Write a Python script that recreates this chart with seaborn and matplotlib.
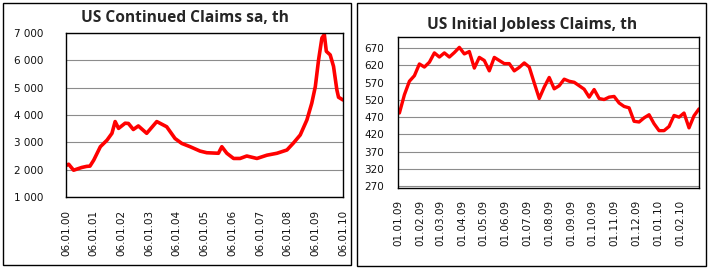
import matplotlib
matplotlib.use("Agg")
import matplotlib.pyplot as plt
import matplotlib.patches as mpatches
import seaborn as sns
import pandas as pd

# ── Data ─────────────────────────────────────────────────────────────────────
cont_dates = [
    "2000-01-06", "2000-02-10", "2000-04-15", "2000-07-31", "2000-10-04",
    "2000-11-17", "2001-01-06", "2001-04-03", "2001-06-30", "2001-09-03",
    "2001-10-15", "2001-11-29", "2002-02-24", "2002-04-08", "2002-06-12",
    "2002-08-17", "2002-12-05", "2003-04-17", "2003-08-26", "2003-12-14",
    "2004-03-12", "2004-06-30", "2004-11-08", "2005-02-04", "2005-07-08",
    "2005-08-22", "2005-10-27", "2006-01-24", "2006-04-20", "2006-07-17",
    "2006-11-28", "2007-04-09", "2007-08-19", "2007-12-29", "2008-03-25",
    "2008-06-21", "2008-09-17", "2008-11-20", "2009-01-06", "2009-02-18",
    "2009-04-03", "2009-05-05", "2009-05-31", "2009-07-21", "2009-09-03",
    "2009-10-17", "2009-11-08", "2010-01-06",
]
cont_claims = [
    2150, 2200, 1980, 2080, 2120, 2130, 2350, 2840, 3080, 3330,
    3760, 3510, 3700, 3690, 3470, 3600, 3330, 3760, 3570, 3140,
    2960, 2840, 2680, 2620, 2600, 2840, 2600, 2410, 2410, 2500,
    2410, 2530, 2600, 2720, 2980, 3270, 3820, 4430, 5040, 6020,
    6820, 6940, 6330, 6200, 5780, 4920, 4650, 4550,
]

# weekly, starting with the week ending 03.01.09
init_start = "2009-01-03"
init_claims = [
    482, 535, 574, 590, 624, 615, 629, 656, 644, 656,
    644, 657, 672, 653, 660, 612, 643, 634, 604, 643,
    634, 625, 625, 604, 614, 627, 615, 569, 524, 557,
    585, 552, 561, 580, 574, 571, 561, 551, 528, 550,
    524, 521, 528, 530, 511, 501, 497, 458, 456, 468,
    477, 451, 431, 431, 443, 475, 470, 482, 439, 474,
    494,
]

cont_xticks = ["2000-01-06", "2001-01-06", "2002-01-06", "2003-01-06", "2004-01-06",
               "2005-01-06", "2006-01-06", "2007-01-06", "2008-01-06", "2009-01-06",
               "2010-01-06"]
cont_xlabels = ["06.01.00", "06.01.01", "06.01.02", "06.01.03", "06.01.04",
                "06.01.05", "06.01.06", "06.01.07", "06.01.08", "06.01.09",
                "06.01.10"]
cont_yticks = [1000, 2000, 3000, 4000, 5000, 6000, 7000]
cont_ylabels = ["1 000", "2 000", "3 000", "4 000", "5 000", "6 000", "7 000"]

init_xticks = ["2009-01-01", "2009-02-01", "2009-03-01", "2009-04-01", "2009-05-01",
               "2009-06-01", "2009-07-01", "2009-08-01", "2009-09-01", "2009-10-01",
               "2009-11-01", "2009-12-01", "2010-01-01", "2010-02-01"]
init_xlabels = ["01.01.09", "01.02.09", "01.03.09", "01.04.09", "01.05.09",
                "01.06.09", "01.07.09", "01.08.09", "01.09.09", "01.10.09",
                "01.11.09", "01.12.09", "01.01.10", "01.02.10"]
init_yticks = [270, 320, 370, 420, 470, 520, 570, 620, 670]

# ── Style ────────────────────────────────────────────────────────────────────
sns.set_style("white")
plt.rcParams['font.family'] = ['DejaVu Sans']

RED = "#ff0000"
GRID = "#8c8c8c"

df_cont = pd.DataFrame({"date": pd.to_datetime(cont_dates), "claims": cont_claims})
df_init = pd.DataFrame({
    "date": pd.date_range(init_start, periods=len(init_claims), freq="7D"),
    "claims": init_claims,
})

fig = plt.figure(figsize=(7.09, 2.69), dpi=100)

# panel frames
W, H = 709, 269
for x0, y0, x1, y1 in [(3, 3, 351, 265), (357, 3, 706, 266)]:
    fig.patches.append(mpatches.Rectangle(
        (x0 / W, 1 - y1 / H), (x1 - x0) / W, (y1 - y0) / H,
        transform=fig.transFigure, fill=False, edgecolor="black", linewidth=1.0))

ax1 = fig.add_axes([66 / W, 1 - 197 / H, 277 / W, 164 / H])
ax2 = fig.add_axes([398 / W, 1 - 188 / H, 301 / W, 151 / H])


def style_axes(ax):
    for s in ax.spines.values():
        s.set_visible(True)
        s.set_color("black")
        s.set_linewidth(1.0)
    ax.grid(axis="y", color=GRID, linewidth=0.8)
    ax.grid(axis="x", visible=False)
    ax.set_axisbelow(True)
    ax.set_xlabel("")
    ax.set_ylabel("")
    ax.tick_params(axis="both", length=0, labelsize=7.5, labelcolor="#111111")


# ── Left: continued claims ──────────────────────────────────────────────────
sns.lineplot(data=df_cont, x="date", y="claims", ax=ax1, color=RED, linewidth=2.6)
ax1.set_xlim(pd.Timestamp(cont_xticks[0]), pd.Timestamp(cont_xticks[-1]))
ax1.set_ylim(1000, 7000)
ax1.set_xticks(pd.to_datetime(cont_xticks))
ax1.set_xticklabels(cont_xlabels, rotation=90)
ax1.set_yticks(cont_yticks)
ax1.set_yticklabels(cont_ylabels)
style_axes(ax1)
ax1.tick_params(axis="y", pad=16)
ax1.tick_params(axis="x", pad=9)
fig.text(185 / W, 1 - 18 / H, "US Continued Claims sa, th", ha="center", va="center",
         fontsize=11.2, fontweight="bold", family="Open Sans")

# ── Right: initial jobless claims ───────────────────────────────────────────
sns.lineplot(data=df_init, x="date", y="claims", ax=ax2, color=RED, linewidth=2.4)
ax2.set_xlim(df_init["date"].iloc[0], df_init["date"].iloc[-1])
ax2.set_ylim(265, 702)
ax2.set_xticks(pd.to_datetime(init_xticks))
ax2.set_xticklabels(init_xlabels, rotation=90)
ax2.set_yticks(init_yticks)
style_axes(ax2)
ax2.tick_params(axis="y", pad=10)
ax2.tick_params(axis="x", pad=8.5)
fig.text(532 / W, 1 - 25 / H, "US Initial Jobless Claims, th", ha="center", va="center",
         fontsize=11.2, fontweight="bold", family="Open Sans")

fig.savefig("out.png", dpi=100)
